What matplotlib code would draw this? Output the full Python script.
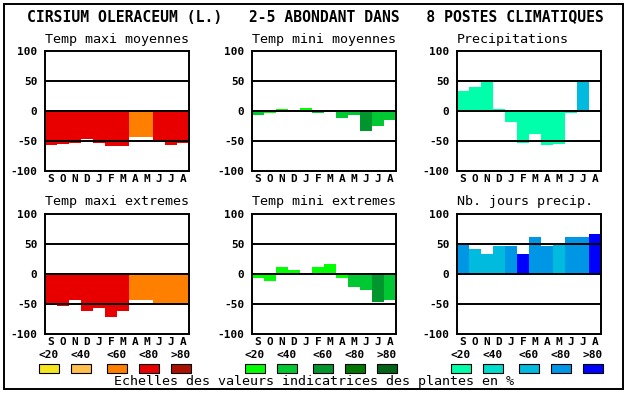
import matplotlib
matplotlib.use("Agg")
import matplotlib.pyplot as plt
from matplotlib.patches import Rectangle

W, H = 630, 394
MONO = "DejaVu Sans Mono"

months = ['S', 'O', 'N', 'D', 'J', 'F', 'M', 'A', 'M', 'J', 'J', 'A']
classes = ['<20', '<40', '<60', '<80', '>80']

# class colours, one palette per kind of variable
warm_colors = ['#F5E61E', '#FFBF4F', '#FF8000', '#E80000', '#AA1100']
green_colors = ['#00FF00', '#00C832', '#00962D', '#007800', '#006418']
blue_colors = ['#00FFAA', '#00DDCC', '#00BBDD', '#0096E6', '#0000FF']

# values per month (S..A) and colour class of each bar
tmax_moy = [-56, -55, -54, -46, -53, -58, -58, -44, -43, -50, -56, -53]
tmax_moy_cls = [3, 3, 3, 3, 3, 3, 3, 2, 2, 3, 3, 3]

tmin_moy = [-6, -4, 3, 2, 5, -4, 2, -11, -6, -33, -25, -15]
tmin_moy_cls = [1, 0, 0, 1, 0, 1, 1, 1, 1, 2, 1, 1]

precip = [34, 40, 52, 3, -18, -53, -39, -57, -55, -4, 50, -2]
precip_cls = [0, 0, 0, 0, 0, 0, 0, 0, 0, 0, 2, 0]

tmax_ext = [-50, -54, -44, -62, -57, -71, -61, -44, -43, -48, -50, -50]
tmax_ext_cls = [3, 3, 3, 3, 3, 3, 3, 2, 2, 2, 2, 2]

tmin_ext = [-7, -11, 11, 7, 0, 11, 16, -7, -21, -27, -47, -44]
tmin_ext_cls = [0, 0, 0, 0, 0, 0, 0, 0, 1, 1, 2, 1]

njours = [52, 42, 34, 46, 47, 34, 62, 47, 50, 62, 62, 66]
njours_cls = [3, 2, 2, 2, 3, 4, 3, 3, 2, 3, 3, 4]

title = "CIRSIUM OLERACEUM (L.)   2-5 ABONDANT DANS   8 POSTES CLIMATIQUES"
caption = "Echelles des valeurs indicatrices des plantes en %"


def fx(x):
    return x / W


def fy(y):
    return 1 - y / H


def panel(fig, left, top, name, values, cls, palette):
    # left/top in pixels, axes are 144 x 120 px
    ax = fig.add_axes([fx(left), fy(top + 120), 144 / W, 120 / H])
    colors = [palette[c] for c in cls]
    ax.bar(range(12), values, width=1.0, color=colors, linewidth=0, zorder=1)
    for v in (-50, 0, 50):
        ax.axhline(v, color='black', linewidth=1.4, zorder=3)
    ax.set_xlim(-0.5, 11.5)
    ax.set_ylim(-100, 100)
    ax.set_yticks([-100, -50, 0, 50, 100])
    ax.set_yticklabels(['-100', '-50', '0', '50', '100'],
                       fontfamily=MONO, fontweight='bold', fontsize=8)
    ax.set_xticks(range(12))
    ax.set_xticklabels(months, fontfamily=MONO, fontweight='bold', fontsize=8)
    ax.tick_params(axis='y', length=0, pad=5.5)
    ax.tick_params(axis='x', length=0, pad=2)
    for s in ax.spines.values():
        s.set_linewidth(1.4)
        s.set_zorder(4)
    fig.text(fx(left), fy(top - 12), name, ha='left', va='center',
             fontfamily=MONO, fontsize=9.6)
    return ax


def legend_group(fig, left, palette):
    offsets = [4, 36, 72, 104, 136]
    for off, lab, col in zip(offsets, classes, palette):
        cx = left + off
        fig.text(fx(cx), fy(354.5), lab, ha='center', va='center',
                 fontfamily=MONO, fontweight='bold', fontsize=8)
        fig.add_artist(Rectangle((fx(cx - 10), fy(373)), 20 / W, 9 / H,
                                 facecolor=col, edgecolor='black',
                                 linewidth=0.8, transform=fig.transFigure))


fig = plt.figure(figsize=(W / 100, H / 100), dpi=100)

fig.add_artist(Rectangle((fx(4), fy(389)), 619 / W, 385 / H, fill=False,
                         edgecolor='black', linewidth=1.4,
                         transform=fig.transFigure))

fig.text(fx(27), fy(18), title, ha='left', va='center',
         fontfamily=MONO, fontweight='bold', fontsize=10.6)

cols = [45, 252, 457]
panel(fig, cols[0], 51, "Temp maxi moyennes", tmax_moy, tmax_moy_cls, warm_colors)
panel(fig, cols[1], 51, "Temp mini moyennes", tmin_moy, tmin_moy_cls, green_colors)
panel(fig, cols[2], 51, "Precipitations", precip, precip_cls, blue_colors)
panel(fig, cols[0], 214, "Temp maxi extremes", tmax_ext, tmax_ext_cls, warm_colors)
panel(fig, cols[1], 214, "Temp mini extremes", tmin_ext, tmin_ext_cls, green_colors)
panel(fig, cols[2], 214, "Nb. jours precip.", njours, njours_cls, blue_colors)

legend_group(fig, cols[0] + 0, warm_colors)
legend_group(fig, cols[1] - 1, green_colors)
legend_group(fig, cols[2], blue_colors)

fig.text(fx(314.5), fy(382), caption, ha='center', va='center',
         fontfamily=MONO, fontsize=9.6)

fig.savefig("out.png", dpi=100)
